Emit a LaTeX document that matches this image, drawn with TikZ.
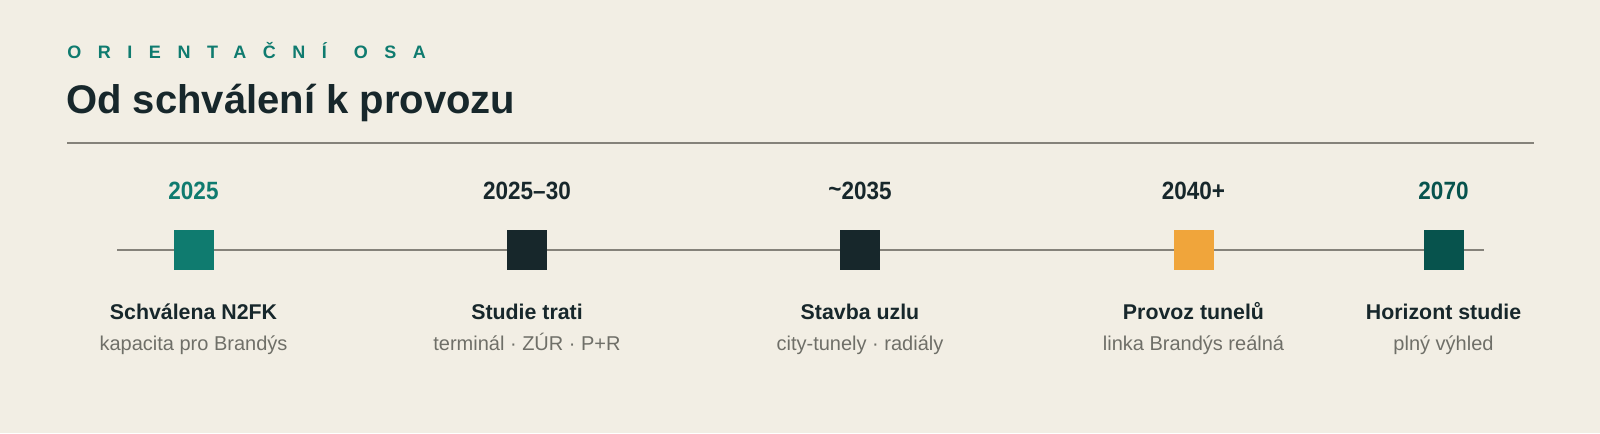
\documentclass[tikz,border=0pt]{standalone}
\usepackage{fontspec}
\setmainfont{Liberation Sans}
\newfontfamily\yearfont[FakeStretch=0.9]{Liberation Sans}
\usetikzlibrary{positioning}
\definecolor{paper}{HTML}{F2EEE4}
\definecolor{teal}{HTML}{0F7B6F}
\definecolor{ink}{HTML}{17272B}
\definecolor{amber}{HTML}{F0A53B}
\definecolor{deepteal}{HTML}{07534D}
\definecolor{rulegray}{HTML}{85827A}
\definecolor{subgray}{HTML}{6F6F68}

\begin{document}
\begin{tikzpicture}[x=0.75pt, y=-0.75pt,
	stone/.style={rectangle, minimum size=30pt, inner sep=0pt},
	yearlbl/.style={anchor=base, font=\yearfont\bfseries\fontsize{18.75}{22}\selectfont},
	headlbl/.style={anchor=base, text=ink, font=\bfseries\fontsize{16}{19}\selectfont},
	sublbl/.style={anchor=base, text=subgray, font=\fontsize{15}{18}\selectfont}]
	\fill[paper] (0,0) rectangle (1600,433);
	\useasboundingbox (0,0) rectangle (1600,433);
	\node[anchor=base west, inner sep=0pt, text=teal, font=\bfseries\fontsize{13.5}{16}\selectfont\addfontfeature{LetterSpace=92}] (kicker) at (67,58) {ORIENTAČNÍ\hspace{4pt} OSA};
	\node[anchor=base west, inner sep=0pt, text=ink, font=\bfseries\fontsize{30}{36}\selectfont] (title) at (66,113) {Od schválení k provozu};
	\coordinate (ruleL) at (67,143);
	\coordinate (ruleR) at (1534,143);
	\draw[rulegray, line width=0.9pt] (ruleL) -- (ruleR);
	\coordinate (axisL) at (117,250);
	\coordinate (axisR) at (1484,250);
	\draw[rulegray, line width=0.9pt] (axisL) -- (axisR);
	\node[stone, fill=teal] (m1) at (193.5,250) {};
	\node[stone, fill=ink] (m2) at (527,250) {};
	\node[stone, fill=ink] (m3) at (860,250) {};
	\node[stone, fill=amber] (m4) at (1193.5,250) {};
	\node[stone, fill=deepteal] (m5) at (1443.5,250) {};
	\node[yearlbl, text=teal] (y1) at (193.5,199) {2025};
	\node[yearlbl, text=ink] (y2) at (527,199) {2025–30};
	\node[yearlbl, text=ink] (y3) at (860,199) {\raisebox{0.1ex}{\char"7E}2035};
	\node[yearlbl, text=ink] (y4) at (1193.5,199) {2040+};
	\node[yearlbl, text=deepteal] (y5) at (1443.5,199) {2070};
	\node[headlbl] (h1) at (193.5,319.5) {Schválena N2FK};
	\node[headlbl] (h2) at (527,319.5) {Studie trati};
	\node[headlbl] (h3) at (860,319.5) {Stavba uzlu};
	\node[headlbl] (h4) at (1193.5,319.5) {Provoz tunelů};
	\node[headlbl] (h5) at (1443.5,319.5) {Horizont studie};
	\node[sublbl] (s1) at (193.5,350) {kapacita pro Brandýs};
	\node[sublbl] (s2) at (527,350) {terminál · ZÚR · P+R};
	\node[sublbl] (s3) at (860,350) {city-tunely · radiály};
	\node[sublbl] (s4) at (1193.5,350) {linka Brandýs reálná};
	\node[sublbl] (s5) at (1443.5,350) {plný výhled};
\end{tikzpicture}
\end{document}
